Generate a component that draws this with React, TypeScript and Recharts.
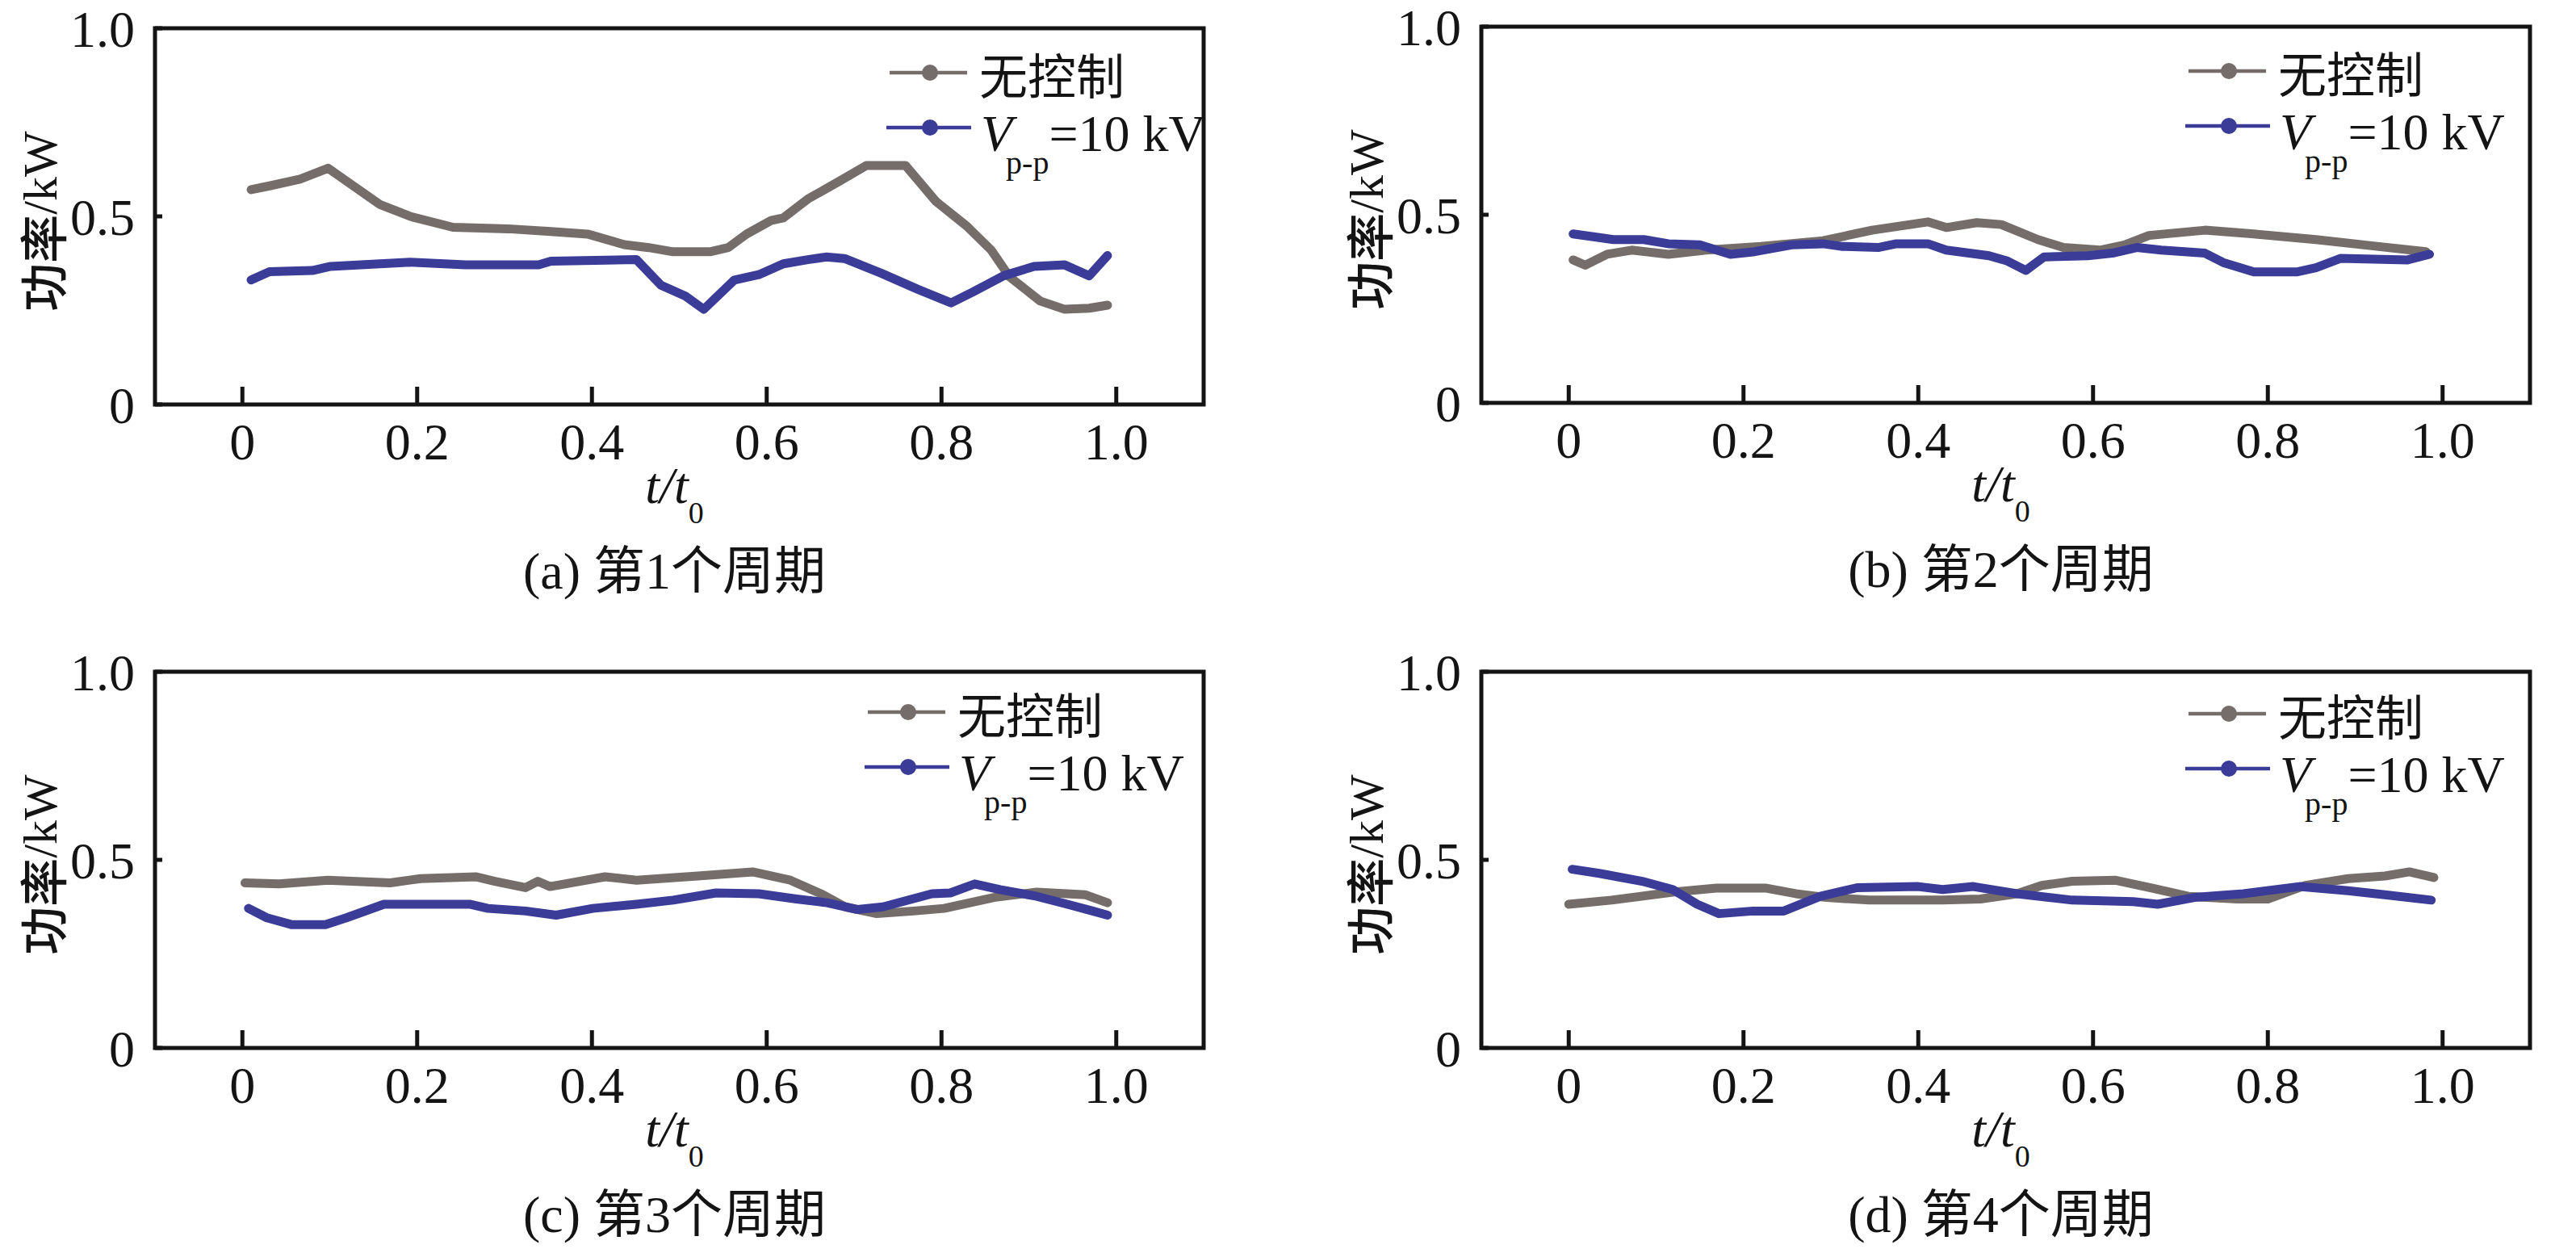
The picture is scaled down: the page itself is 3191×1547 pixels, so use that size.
import React from 'react';
import { LineChart, Line, XAxis, YAxis, ReferenceArea, Legend } from 'recharts';

const SERIF = '"Liberation Serif", serif';
const CJK = '"Noto Sans CJK SC", "Noto Sans CJK JP", sans-serif';
const INK = '#141414';
const GRAY = '#756d6a';
const BLUE = '#3b3c98';

// axis ticks
const xTicks = [0, 0.2, 0.4, 0.6, 0.8, 1.0];
const xTickLabels = ['0', '0.2', '0.4', '0.6', '0.8', '1.0'];
const yTicks = [0, 0.5, 1];
const yTickLabels = ['0', '0.5', '1.0'];
const seriesNames = ['无控制', 'Vp-p=10 kV'];
const panelLetters = ['a', 'b', 'c', 'd'];
const panelCycles = [1, 2, 3, 4];

// (a) 第1个周期
const tGrayA = [0.01, 0.031, 0.066, 0.098, 0.122, 0.157, 0.192, 0.241, 0.304, 0.353, 0.395, 0.437, 0.465, 0.493, 0.535, 0.556, 0.577, 0.605, 0.619, 0.647, 0.682, 0.714, 0.759, 0.794, 0.829, 0.857, 0.878, 0.913, 0.941, 0.969, 0.99];
const pGrayA = [0.571, 0.581, 0.599, 0.628, 0.589, 0.532, 0.5, 0.471, 0.467, 0.46, 0.453, 0.425, 0.417, 0.406, 0.406, 0.417, 0.453, 0.489, 0.496, 0.546, 0.592, 0.635, 0.635, 0.539, 0.474, 0.41, 0.339, 0.275, 0.253, 0.256, 0.264];
const tBlueA = [0.01, 0.031, 0.08, 0.101, 0.192, 0.255, 0.339, 0.353, 0.451, 0.479, 0.507, 0.528, 0.563, 0.591, 0.619, 0.647, 0.668, 0.689, 0.731, 0.773, 0.811, 0.836, 0.871, 0.906, 0.941, 0.969, 0.99];
const pBlueA = [0.331, 0.353, 0.356, 0.367, 0.378, 0.371, 0.371, 0.381, 0.385, 0.317, 0.288, 0.253, 0.331, 0.345, 0.374, 0.385, 0.392, 0.388, 0.349, 0.306, 0.27, 0.299, 0.342, 0.367, 0.371, 0.342, 0.396];

// (b) 第2个周期
const tGrayB = [0.005, 0.019, 0.044, 0.072, 0.114, 0.157, 0.22, 0.291, 0.347, 0.411, 0.432, 0.467, 0.495, 0.537, 0.566, 0.608, 0.636, 0.664, 0.728, 0.784, 0.855, 0.925, 0.981];
const pGrayB = [0.38, 0.366, 0.395, 0.406, 0.395, 0.406, 0.416, 0.431, 0.459, 0.481, 0.466, 0.479, 0.474, 0.434, 0.413, 0.406, 0.42, 0.445, 0.459, 0.449, 0.434, 0.416, 0.402];
const tBlueB = [0.005, 0.03, 0.051, 0.086, 0.114, 0.15, 0.185, 0.213, 0.255, 0.291, 0.312, 0.354, 0.375, 0.411, 0.432, 0.481, 0.502, 0.523, 0.544, 0.594, 0.622, 0.65, 0.678, 0.728, 0.749, 0.784, 0.833, 0.855, 0.883, 0.96, 0.985];
const pBlueB = [0.449, 0.441, 0.434, 0.434, 0.423, 0.42, 0.395, 0.402, 0.42, 0.423, 0.416, 0.413, 0.423, 0.423, 0.406, 0.391, 0.377, 0.352, 0.388, 0.391, 0.398, 0.413, 0.406, 0.398, 0.373, 0.348, 0.348, 0.359, 0.384, 0.38, 0.395];

// (c) 第3个周期
const tGrayC = [0.003, 0.042, 0.098, 0.169, 0.204, 0.267, 0.289, 0.324, 0.338, 0.352, 0.415, 0.451, 0.521, 0.584, 0.627, 0.662, 0.69, 0.726, 0.768, 0.803, 0.86, 0.909, 0.965, 0.99];
const pGrayC = [0.439, 0.436, 0.446, 0.439, 0.45, 0.455, 0.443, 0.426, 0.443, 0.429, 0.455, 0.446, 0.457, 0.468, 0.446, 0.41, 0.375, 0.357, 0.364, 0.371, 0.4, 0.414, 0.407, 0.386];
const tBlueC = [0.007, 0.028, 0.056, 0.095, 0.119, 0.162, 0.26, 0.281, 0.324, 0.359, 0.401, 0.451, 0.493, 0.542, 0.591, 0.634, 0.669, 0.704, 0.733, 0.789, 0.81, 0.838, 0.867, 0.909, 0.944, 0.973, 0.99];
const pBlueC = [0.371, 0.346, 0.328, 0.328, 0.346, 0.382, 0.382, 0.371, 0.364, 0.353, 0.371, 0.382, 0.393, 0.412, 0.41, 0.396, 0.386, 0.368, 0.375, 0.41, 0.412, 0.436, 0.421, 0.403, 0.382, 0.364, 0.353];

// (d) 第4个周期
const tGrayD = [0, 0.049, 0.119, 0.169, 0.225, 0.26, 0.295, 0.344, 0.428, 0.471, 0.513, 0.541, 0.576, 0.625, 0.667, 0.709, 0.765, 0.8, 0.843, 0.892, 0.934, 0.962, 0.99];
const pGrayD = [0.382, 0.393, 0.414, 0.425, 0.425, 0.41, 0.4, 0.393, 0.393, 0.396, 0.41, 0.432, 0.443, 0.446, 0.425, 0.403, 0.396, 0.396, 0.432, 0.45, 0.457, 0.468, 0.453];
const tBlueD = [0.004, 0.035, 0.084, 0.119, 0.147, 0.172, 0.211, 0.246, 0.288, 0.33, 0.4, 0.428, 0.463, 0.513, 0.576, 0.646, 0.674, 0.716, 0.772, 0.836, 0.892, 0.934, 0.987];
const pBlueD = [0.475, 0.464, 0.443, 0.421, 0.382, 0.357, 0.364, 0.364, 0.403, 0.426, 0.429, 0.421, 0.429, 0.41, 0.393, 0.389, 0.382, 0.4, 0.41, 0.429, 0.418, 0.407, 0.393];

const zip = (t: number[], p: number[]) => t.map((v, i) => ({ t: v, p: p[i] }));

// layout of the four panels (page pixels)
const CHART_W = 1595;
const CHART_H = 770;
const AXIS_W = 192;
const PLOT_W = 1299;
const PLOT_H = 466;
const XAXIS_H = 130;

const panels = [
  { left: 0, top: 0, plotTop: 35, legendX: 908, legendY: 55, gray: zip(tGrayA, pGrayA), blue: zip(tBlueA, pBlueA) },
  { left: 1643, top: 0, plotTop: 33, legendX: 874, legendY: 55, gray: zip(tGrayB, pGrayB), blue: zip(tBlueB, pBlueB) },
  { left: 0, top: 797, plotTop: 35, legendX: 881, legendY: 50, gray: zip(tGrayC, pGrayC), blue: zip(tBlueC, pBlueC) },
  { left: 1643, top: 797, plotTop: 35, legendX: 874, legendY: 52, gray: zip(tGrayD, pGrayD), blue: zip(tBlueD, pBlueD) },
];

const serif = { fontFamily: SERIF };
const cjk = { fontFamily: CJK };

const XTick = ({ x, y, payload }: any) => {
  const i = xTicks.indexOf(payload.value);
  return (
    <text x={x} y={y + 68} textAnchor="middle" style={serif} fontSize={64} fill={INK}>
      {i >= 0 ? xTickLabels[i] : payload.value}
    </text>
  );
};

const YTick = ({ x, y, payload }: any) => {
  const i = yTicks.indexOf(payload.value);
  return (
    <text x={x} y={y + 23} textAnchor="end" style={serif} fontSize={64} fill={INK}>
      {i >= 0 ? yTickLabels[i] : payload.value}
    </text>
  );
};

const YTitle = (props: any) => {
  const vb = props.viewBox && props.viewBox.height ? props.viewBox : { x: 0, y: 35, width: AXIS_W, height: PLOT_H };
  const cx = vb.x + 50;
  const cy = vb.y + vb.height / 2 + 6;
  return (
    <text transform={`translate(${cx},${cy}) rotate(-90)`} textAnchor="middle" dominantBaseline="central" fontSize={60} fill={INK}>
      <tspan style={cjk} fontWeight={500}>功率</tspan>
      <tspan style={serif}>/kW</tspan>
    </text>
  );
};

const makeXTitle = (idx: number, plotTop: number) => (props: any) => {
  const vb = props.viewBox && props.viewBox.width ? props.viewBox : { x: AXIS_W, y: plotTop + PLOT_H, width: PLOT_W, height: XAXIS_H };
  const cx = vb.x + vb.width / 2 - 6;
  const base = vb.y + 122;
  return (
    <g>
      <text x={cx} y={base} textAnchor="middle" style={serif} fontSize={64} fill={INK}>
        <tspan fontStyle="italic">t/t</tspan>
        <tspan fontSize={38} dy={25}>0</tspan>
      </text>
      <text x={cx} y={base + 106} textAnchor="middle" fontSize={64} fill={INK}>
        <tspan style={serif}>({panelLetters[idx]}) </tspan>
        <tspan style={cjk}>第</tspan>
        <tspan style={serif}>{panelCycles[idx]}</tspan>
        <tspan style={cjk}>个周期</tspan>
      </text>
    </g>
  );
};

const LegendBox = ({ payload }: any) => {
  const items = [...(payload || [])].sort(
    (a: any, b: any) => seriesNames.indexOf(a.value) - seriesNames.indexOf(b.value)
  );
  return (
    <svg width={560} height={190} style={{ display: 'block', overflow: 'visible' }}>
      {items.map((it: any, i: number) => {
        const cy = 40 + i * 68;
        return (
          <g key={it.value}>
            <line x1={i ? 0 : 4} x2={i ? 105 : 100} y1={cy} y2={cy} stroke={it.color} strokeWidth={4.5} />
            <circle cx={54} cy={cy} r={10} fill={it.color} />
            {it.value === seriesNames[0] ? (
              <text x={115} y={cy} dominantBaseline="central" style={cjk} fontSize={60} fill={INK}>
                {it.value}
              </text>
            ) : (
              <text x={117} y={cy + 29} style={serif} fontSize={64} fill={INK}>
                <tspan fontStyle="italic">V</tspan>
                <tspan fontSize={40} dx={-8} dy={28}>p-p</tspan>
                <tspan dy={-28}>=10 kV</tspan>
              </text>
            )}
          </g>
        );
      })}
    </svg>
  );
};

function Panel({ idx }: { idx: number }) {
  const p = panels[idx];
  const bottom = CHART_H - p.plotTop - PLOT_H - XAXIS_H;
  return (
    <div style={{ position: 'absolute', left: p.left, top: p.top }}>
      <LineChart
        width={CHART_W}
        height={CHART_H}
        margin={{ top: p.plotTop, right: CHART_W - AXIS_W - PLOT_W, bottom, left: 0 }}
      >
        <XAxis
          type="number"
          dataKey="t"
          domain={[-0.1, 1.1]}
          ticks={xTicks}
          interval={0}
          height={XAXIS_H}
          axisLine={false}
          tickLine={{ stroke: INK, strokeWidth: 5 }}
          tickSize={-22}
          tickMargin={22}
          tick={<XTick />}
          label={makeXTitle(idx, p.plotTop)}
          allowDataOverflow
        />
        <YAxis
          type="number"
          domain={[0, 1]}
          ticks={yTicks}
          interval={0}
          width={AXIS_W}
          axisLine={false}
          tickLine={{ stroke: INK, strokeWidth: 5 }}
          tickSize={-9}
          tickMargin={34}
          tick={<YTick />}
          label={YTitle}
          allowDataOverflow
        />
        <Legend
          layout="horizontal"
          verticalAlign="middle"
          align="center"
          content={<LegendBox />}
          wrapperStyle={{ left: AXIS_W + p.legendX - 2, top: p.plotTop + p.legendY - 40, width: 560, height: 190 }}
        />
        <Line
          data={p.gray}
          dataKey="p"
          name={seriesNames[0]}
          type="linear"
          stroke={GRAY}
          strokeWidth={11}
          strokeLinejoin="round"
          strokeLinecap="round"
          dot={false}
          activeDot={false}
          isAnimationActive={false}
        />
        <Line
          data={p.blue}
          dataKey="p"
          name={seriesNames[1]}
          type="linear"
          stroke={BLUE}
          strokeWidth={11}
          strokeLinejoin="round"
          strokeLinecap="round"
          dot={false}
          activeDot={false}
          isAnimationActive={false}
        />
        <ReferenceArea x1={-0.1} x2={1.1} y1={0} y2={1} fill="none" stroke={INK} strokeWidth={5} ifOverflow="visible" />
      </LineChart>
    </div>
  );
}

export default function App() {
  return (
    <div style={{ position: 'absolute', left: 0, top: 0, width: 3191, height: 1547, background: '#fff', overflow: 'hidden', fontFamily: SERIF }}>
      {panels.map((_, i) => (
        <Panel key={i} idx={i} />
      ))}
    </div>
  );
}
